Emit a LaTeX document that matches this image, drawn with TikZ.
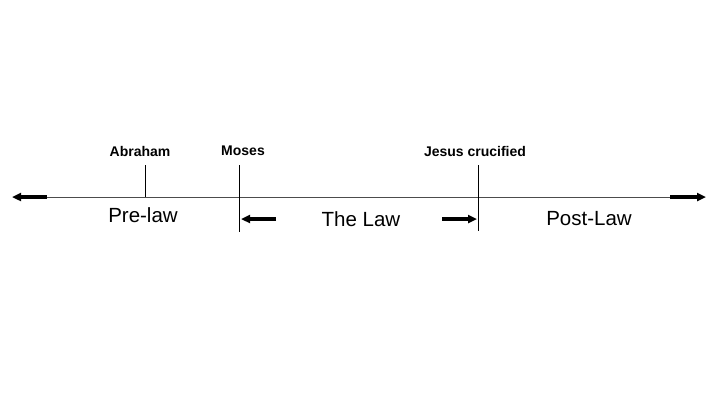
\documentclass[tikz,border=0pt]{standalone}
\usepackage{fontspec}
\setmainfont{Liberation Sans}
\usetikzlibrary{arrows.meta}
\begin{document}
\begin{tikzpicture}[x=1pt,y=-1pt,
  tick/.style={line width=0.8pt},
  fat/.style={line width=3.5pt,-{Triangle[length=9pt,width=8pt]}},
  small/.style={font=\fontsize{14}{16}\selectfont\bfseries,inner sep=0pt},
  big/.style={font=\fontsize{20.5}{24}\selectfont,inner sep=0pt}]
\useasboundingbox (0,0) rectangle (720,405);
\coordinate (L) at (12,197); \coordinate (R) at (706,197);
\coordinate (La) at (47,197); \coordinate (Ra) at (670,197);
\draw[line width=0.8pt,black!70] (La) -- (Ra);
\draw[fat] (La) -- (L);
\draw[fat] (Ra) -- (R);
\coordinate (a1) at (145,165); \coordinate (a2) at (145,197);
\coordinate (m1) at (239,165); \coordinate (m2) at (239,232);
\coordinate (j1) at (478,165); \coordinate (j2) at (478,231);
\draw[tick] (a1) -- (a2); \draw[tick] (m1) -- (m2); \draw[tick] (j1) -- (j2);
\node[small] (ab) at (140,151) {Abraham};
\node[small] (mo) at (243,151) {Moses};
\node[small] (je) at (475,151) {Jesus crucified};
\node[big] (pre) at (143,215) {Pre-law};
\node[big] (law) at (361,219) {The Law};
\node[big] (post) at (589,219) {Post-Law};
\coordinate (b1) at (276,219); \coordinate (b2) at (241,219);
\coordinate (c1) at (442,219); \coordinate (c2) at (477,219);
\draw[fat] (b1) -- (b2);
\draw[fat] (c1) -- (c2);
\end{tikzpicture}
\end{document}
